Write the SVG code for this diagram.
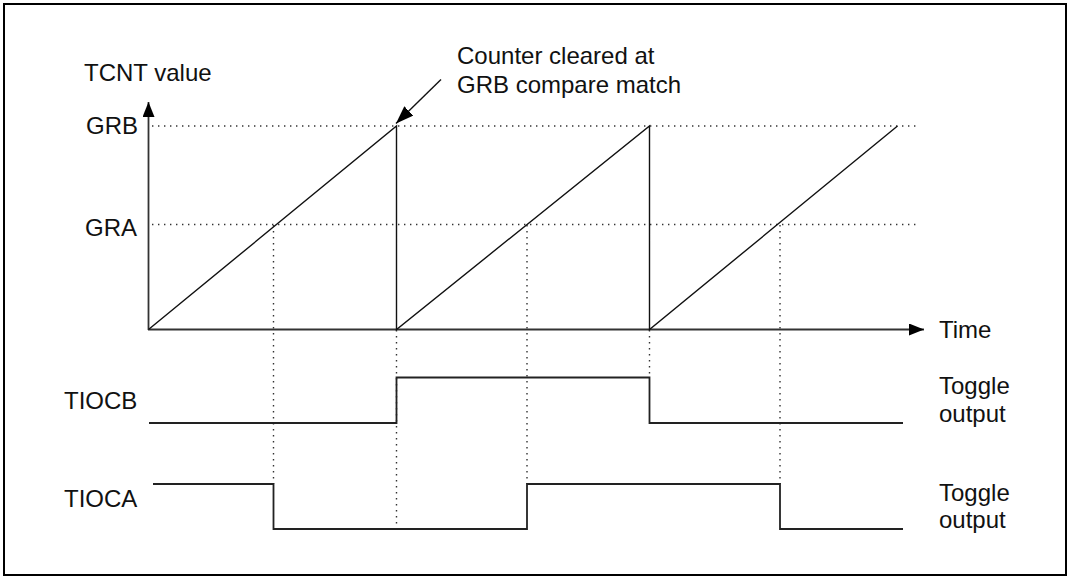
<svg xmlns="http://www.w3.org/2000/svg" width="1069" height="577" viewBox="0 0 1069 577">
<style>
text{font-family:"Liberation Sans",Arial,sans-serif;font-size:24px;fill:#111}
.ax{stroke:#333;stroke-width:1.8;fill:none}
.ln{stroke:#111;stroke-width:1.4;fill:none}
.sig{stroke:#222;stroke-width:1.8;fill:none}
.dot{stroke:#333;stroke-width:1.4;stroke-dasharray:1.4 4.6;fill:none}
</style>
<defs>
<marker id="ah" viewBox="0 0 15 12" refX="15" refY="6" markerWidth="15" markerHeight="12" markerUnits="userSpaceOnUse" orient="auto">
<path d="M0,0 L15,6 L0,12 Z" fill="#000"/>
</marker>
<marker id="ah2" viewBox="0 0 18 13" refX="18" refY="6.5" markerWidth="18" markerHeight="13" markerUnits="userSpaceOnUse" orient="auto">
<path d="M0,0 L18,6.5 L0,13 Z" fill="#000"/>
</marker>
</defs>
<rect x="4" y="4" width="1062" height="571" fill="#fff" stroke="#000" stroke-width="2"/>

<g id="connectors">
<!-- guide dotted lines -->
<line class="dot" x1="152" y1="126" x2="918" y2="126"/>
<line class="dot" x1="152" y1="224.5" x2="916" y2="224.5"/>
<line class="dot" x1="273.5" y1="225" x2="273.5" y2="484"/>
<line class="dot" x1="396.5" y1="330" x2="396.5" y2="529"/>
<line class="dot" x1="527" y1="225" x2="527" y2="484"/>
<line class="dot" x1="649.5" y1="330" x2="649.5" y2="377"/>
<line class="dot" x1="780" y1="225" x2="780" y2="484"/>
<!-- axes -->
<line class="ax" x1="148.5" y1="330" x2="148.5" y2="102" marker-end="url(#ah)"/>
<line class="ax" x1="148" y1="329.5" x2="924" y2="329.5" marker-end="url(#ah)"/>
<!-- sawtooth -->
<polyline class="ln" points="148.5,329.5 396.5,126 396.5,329.5 649.5,126 649.5,329.5 897.5,126"/>
<!-- annotation arrow -->
<line class="ln" x1="441" y1="79.5" x2="396" y2="123.5" marker-end="url(#ah2)"/>
<!-- waveforms -->
<polyline class="sig" points="149,423 396.5,423 396.5,377.5 649.5,377.5 649.5,423 903,423"/>
<polyline class="sig" points="153,484 273.5,484 273.5,529 527,529 527,484 780,484 780,529 903,529"/>
</g>

<g id="label-tcnt"><text x="84" y="81">TCNT value</text></g>
<g id="label-grb"><text x="86" y="134">GRB</text></g>
<g id="label-gra"><text x="85" y="236">GRA</text></g>
<g id="label-annotation"><text x="457" y="64">Counter cleared at</text><text x="457" y="93">GRB compare match</text></g>
<g id="label-time"><text x="939" y="338">Time</text></g>
<g id="label-tiocb"><text x="64" y="409">TIOCB</text></g>
<g id="label-tioca"><text x="64" y="507">TIOCA</text></g>
<g id="label-toggle-b"><text x="939" y="394">Toggle</text><text x="939" y="422">output</text></g>
<g id="label-toggle-a"><text x="939" y="501">Toggle</text><text x="939" y="528">output</text></g>
</svg>
